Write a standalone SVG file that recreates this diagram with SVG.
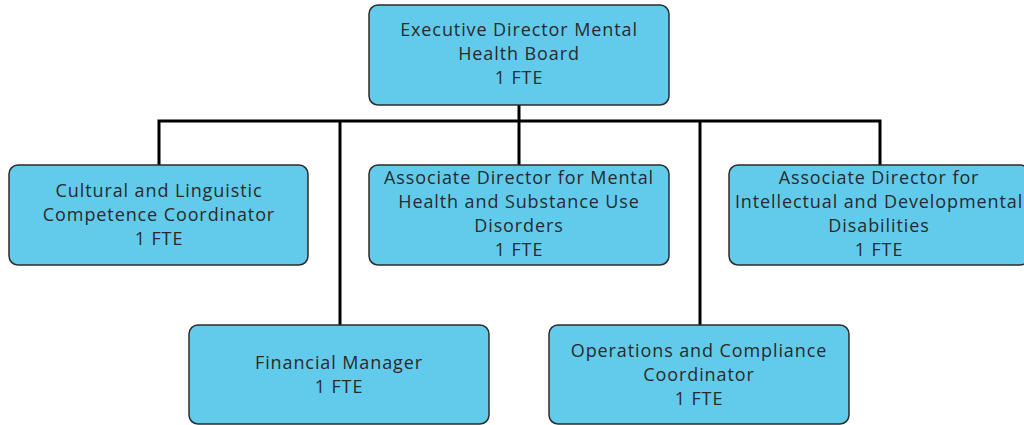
<svg xmlns="http://www.w3.org/2000/svg" width="1024" height="425" viewBox="0 0 1024 425">
<style>
.box{fill:#62CBEC;stroke:#2b2b2b;stroke-width:1.5}
.t{font-family:"Open Sans","DejaVu Sans",sans-serif;font-size:18px;letter-spacing:0.9px;fill:#2a2a2a;text-anchor:middle}
.c{fill:none;stroke:#000;stroke-width:3}
</style>
<rect width="1024" height="425" fill="#fff"/>
<g id="connectors">
<line class="c" x1="519" y1="105" x2="519" y2="121"/>
<polyline class="c" points="159,165 159,121 880,121 880,165"/>
<line class="c" x1="340" y1="121" x2="340" y2="325"/>
<line class="c" x1="519" y1="121" x2="519" y2="165"/>
<line class="c" x1="700" y1="121" x2="700" y2="325"/>
</g>
<g id="n-exec">
<rect class="box" x="369" y="5" width="300" height="100" rx="9"/>
<text class="t" x="519" y="36">Executive Director Mental</text>
<text class="t" x="519" y="60">Health Board</text>
<text class="t" x="519" y="84">1 FTE</text>
</g>
<g id="n-cultural">
<rect class="box" x="9" y="165" width="299" height="100" rx="9"/>
<text class="t" x="159" y="197">Cultural and Linguistic</text>
<text class="t" x="159" y="221">Competence Coordinator</text>
<text class="t" x="159" y="245">1 FTE</text>
</g>
<g id="n-mh">
<rect class="box" x="369" y="165" width="300" height="100" rx="9"/>
<text class="t" x="519" y="184">Associate Director for Mental</text>
<text class="t" x="519" y="208">Health and Substance Use</text>
<text class="t" x="519" y="232">Disorders</text>
<text class="t" x="519" y="256">1 FTE</text>
</g>
<g id="n-idd">
<rect class="box" x="729" y="165" width="300" height="100" rx="9"/>
<text class="t" x="879" y="184">Associate Director for</text>
<text class="t" x="879" y="208">Intellectual and Developmental</text>
<text class="t" x="879" y="232">Disabilities</text>
<text class="t" x="879" y="256">1 FTE</text>
</g>
<g id="n-fin">
<rect class="box" x="189" y="325" width="300" height="99" rx="9"/>
<text class="t" x="339" y="369">Financial Manager</text>
<text class="t" x="339" y="393">1 FTE</text>
</g>
<g id="n-ops">
<rect class="box" x="549" y="325" width="300" height="99" rx="9"/>
<text class="t" x="699" y="357">Operations and Compliance</text>
<text class="t" x="699" y="381">Coordinator</text>
<text class="t" x="699" y="405">1 FTE</text>
</g>
</svg>
